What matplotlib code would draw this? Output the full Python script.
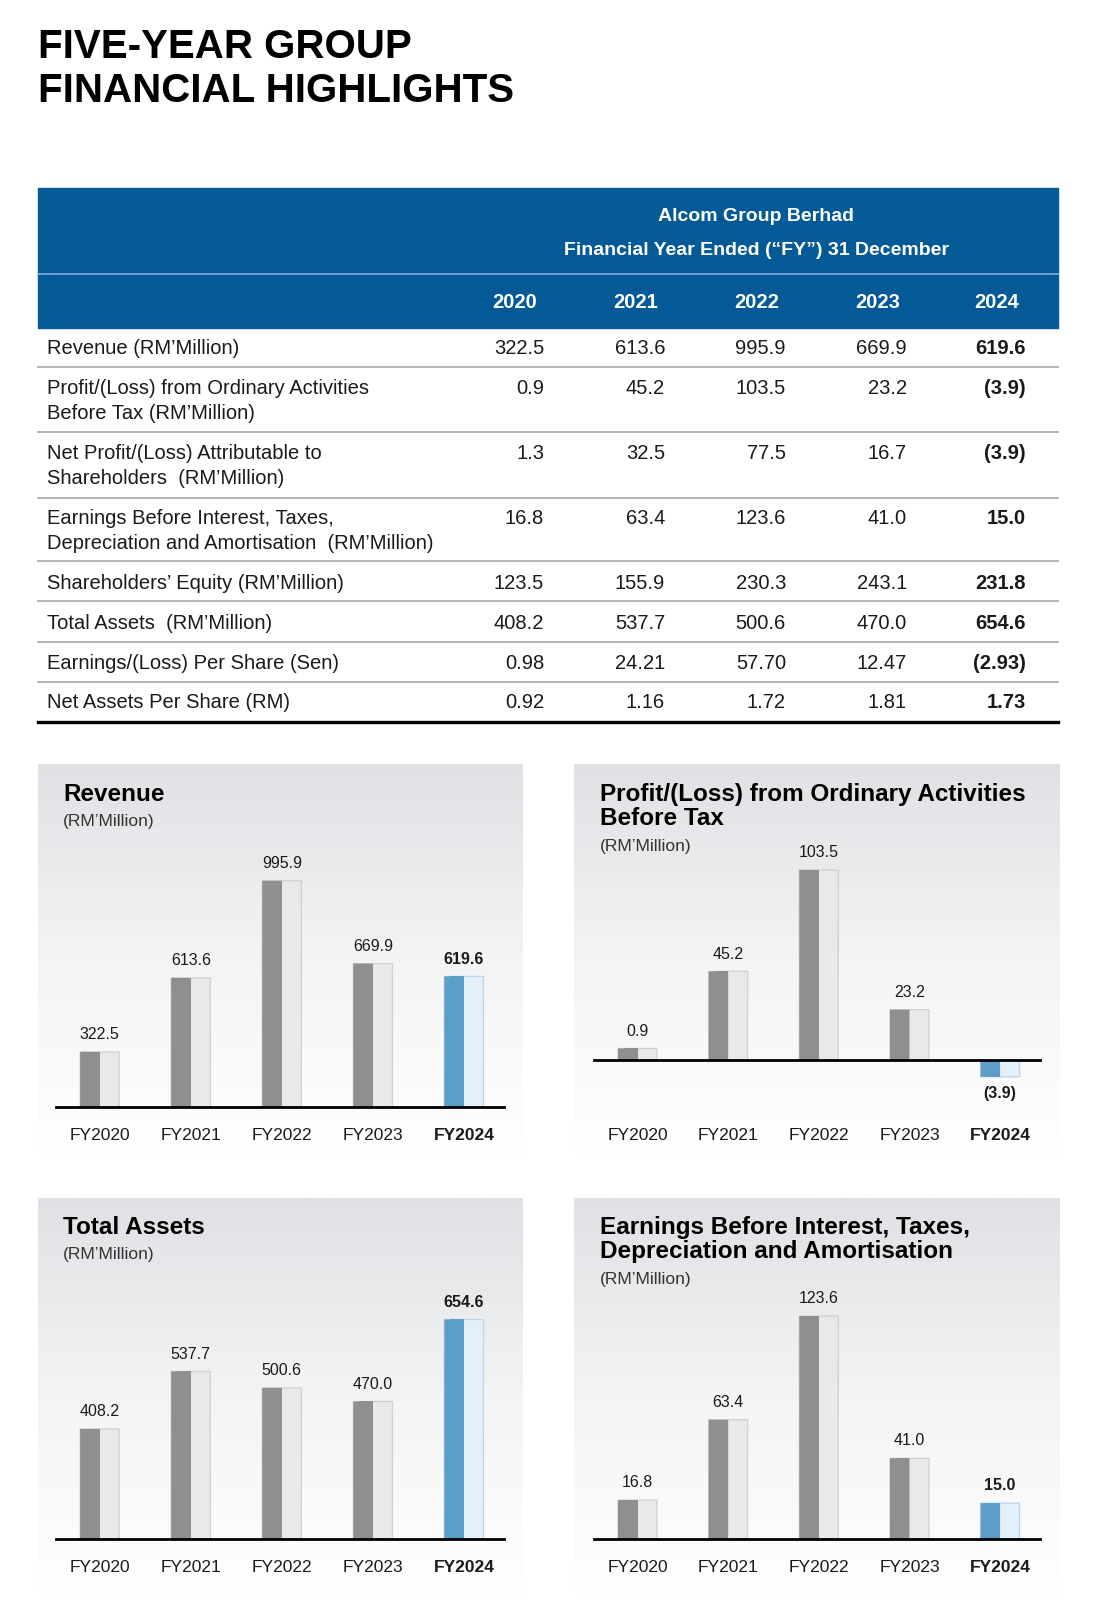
import numpy as np
import matplotlib
matplotlib.use("Agg")
import matplotlib.pyplot as plt
from matplotlib.patches import Rectangle, FancyBboxPatch
from matplotlib.colors import LinearSegmentedColormap

plt.rcParams['font.family'] = ['Liberation Sans', 'DejaVu Sans']

# ---- data ----
years = ["2020", "2021", "2022", "2023", "2024"]
fy_labels = ["FY2020", "FY2021", "FY2022", "FY2023", "FY2024"]

row_labels = [
    ["Revenue (RM\u2019Million)"],
    ["Profit/(Loss) from Ordinary Activities", "Before Tax (RM\u2019Million)"],
    ["Net Profit/(Loss) Attributable to", "Shareholders  (RM\u2019Million)"],
    ["Earnings Before Interest, Taxes,", "Depreciation and Amortisation  (RM\u2019Million)"],
    ["Shareholders\u2019 Equity (RM\u2019Million)"],
    ["Total Assets  (RM\u2019Million)"],
    ["Earnings/(Loss) Per Share (Sen)"],
    ["Net Assets Per Share (RM)"],
]
revenue = [322.5, 613.6, 995.9, 669.9, 619.6]
profit_bt = [0.9, 45.2, 103.5, 23.2, -3.9]
net_profit = [1.3, 32.5, 77.5, 16.7, -3.9]
ebitda = [16.8, 63.4, 123.6, 41.0, 15.0]
equity = [123.5, 155.9, 230.3, 243.1, 231.8]
total_assets = [408.2, 537.7, 500.6, 470.0, 654.6]
eps = [0.98, 24.21, 57.70, 12.47, -2.93]
naps = [0.92, 1.16, 1.72, 1.81, 1.73]
table_rows = [revenue, profit_bt, net_profit, ebitda, equity, total_assets, eps, naps]
row_decimals = [1, 1, 1, 1, 1, 1, 2, 2]


def fmt(v, d):
    s = f"{abs(v):.{d}f}"
    return f"({s})" if v < 0 else s


# ---- layout (pixels) ----
W, H = 1096, 1600
DPI = 100
fig = plt.figure(figsize=(W / DPI, H / DPI), dpi=DPI)
base = fig.add_axes([0, 0, 1, 1], zorder=10)
base.set_xlim(0, W)
base.set_ylim(H, 0)
base.axis('off')


def px_box(x0, y0, x1, y1):
    return [x0 / W, 1 - y1 / H, (x1 - x0) / W, (y1 - y0) / H]


def txt(x, yc, s, size, **kw):
    # yc = vertical centre of capital letters
    base.text(x, yc + 0.36 * size * DPI / 72, s, fontsize=size, va='baseline', **kw)


TEXT = '#1a1a1a'
BLUE = '#045a97'

# title
txt(38, 43, "FIVE-YEAR GROUP", 29, weight='bold', color='black')
txt(38, 88, "FINANCIAL HIGHLIGHTS", 29, weight='bold', color='black')

# table header
tx0, tx1 = 38, 1058
base.add_patch(Rectangle((tx0, 188), tx1 - tx0, 140, color=BLUE, zorder=1))
base.plot([tx0, tx1], [274, 274], color='#7fb0dc', lw=1.2, zorder=2)
txt(756, 214, "Alcom Group Berhad", 14, weight='bold', color='white', ha='center')
txt(756, 248, "Financial Year Ended (\u201cFY\u201d) 31 December", 14, weight='bold',
    color='white', ha='center')

col_right = [544, 665, 786, 907, 1026]
for c, yr in zip(col_right, years):
    txt(c - 29, 301, yr, 14.5, weight='bold', color='white', ha='center')

row_y = [[347], [387, 412], [452, 477], [517, 542], [582], [622], [662], [701]]
line_y = [367, 432, 498, 561, 601, 642, 682]
for labels, ys, vals, d in zip(row_labels, row_y, table_rows, row_decimals):
    for lab, y in zip(labels, ys):
        txt(47, y, lab, 14.5, color=TEXT)
    for j, (c, v) in enumerate(zip(col_right, vals)):
        txt(c, ys[0], fmt(v, d), 14.5, color=TEXT, ha='right',
            weight='bold' if j == 4 else 'normal')
for y in line_y:
    base.plot([tx0, tx1], [y, y], color='#b4b4b4', lw=1.4)
base.plot([tx0, tx1], [722, 722], color='black', lw=2.4)

# ---- chart panels ----
grad_cmap = LinearSegmentedColormap.from_list('bg', ['#dfe1e4', '#f3f4f5', '#ffffff'])
panels = [(38, 764, 523, 1157), (574, 764, 1060, 1157),
          (38, 1198, 523, 1597), (574, 1198, 1060, 1597)]
for p in panels:
    bg = fig.add_axes(px_box(*p), zorder=0)
    bg.imshow(np.linspace(0, 1, 256).reshape(-1, 1), cmap=grad_cmap, aspect='auto')
    bg.axis('off')

CAP_PX = 10
ROUND_PX = 6
BW = 0.43


def bar_chart(box, values, ylim, pad, titles, title_x, title_y, sub_y):
    ax = fig.add_axes(px_box(*box), zorder=2)
    ax.set_facecolor('none')
    xlim = (-0.48, 4.44)
    ax.set_xlim(*xlim)
    ax.set_ylim(*ylim)
    px_y = (box[3] - box[1]) / (ylim[1] - ylim[0])
    px_x = (box[2] - box[0]) / (xlim[1] - xlim[0])
    cap = CAP_PX / px_y
    rs = ROUND_PX / px_x
    aspect = px_x / px_y
    bottom = max(ylim[0], 0)
    x = np.arange(len(values))
    for i, v in enumerate(values):
        top = v + cap if v >= 0 else v - cap
        y0, h = min(bottom, top), abs(top - bottom)
        hl = i == len(values) - 1
        dark = '#5b9ec8' if hl else '#8f8f8f'
        light = '#e3f0f9' if hl else '#e9e9e9'
        edge = '#b8d5ea' if hl else '#d0d0d0'
        r = min(rs, h * aspect / 2.2)
        ax.add_patch(FancyBboxPatch((i - BW / 2, y0), BW, h,
                                    boxstyle=f"round,pad=0,rounding_size={r}",
                                    mutation_aspect=1 / aspect, facecolor=light,
                                    edgecolor=edge, linewidth=0.9))
        ax.add_patch(FancyBboxPatch((i - BW / 2, y0), BW / 2, h,
                                    boxstyle=f"round,pad=0,rounding_size={r}",
                                    mutation_aspect=1 / aspect, facecolor=dark,
                                    edgecolor='none'))
        ax.add_patch(Rectangle((i - BW / 2 + r, y0), BW / 2 - r, h,
                               facecolor=dark, edgecolor='none'))
        lbl = fmt(v, 1)
        off = CAP_PX * 0.72 + 12.5 if v >= 0 else -(CAP_PX * 0.72 + 12)
        ax.annotate(lbl, (i, v), xytext=(0, off), textcoords='offset points',
                    ha='center', va='center', fontsize=11.5, color=TEXT,
                    weight='bold' if hl else 'normal')
    ax.axhline(bottom, color='black', lw=2, clip_on=False)
    ax.set_xticks(x)
    ax.set_xticklabels(fy_labels, fontsize=12.5, color=TEXT)
    ax.get_xticklabels()[-1].set_fontweight('bold')
    ax.tick_params(axis='x', length=0, pad=pad)
    ax.set_yticks([])
    for s in ax.spines.values():
        s.set_visible(False)
    for k, t in enumerate(titles):
        txt(title_x, title_y + 24 * k, t, 17.5, weight='bold', color='black')
    txt(title_x, sub_y, "(RM\u2019Million)", 12.5, color='#333333')
    return ax


bar_chart((56, 830, 504, 1107), revenue, (145, 1235), 15,
          ["Revenue"], 63, 792, 820)
bar_chart((594, 845, 1040, 1095), profit_bt, (-20.1, 123.6), 24,
          ["Profit/(Loss) from Ordinary Activities", "Before Tax"], 600, 792, 845)
bar_chart((56, 1280, 504, 1539), total_assets, (183, 766), 15,
          ["Total Assets"], 63, 1225, 1253)
bar_chart((594, 1290, 1040, 1539), ebitda, (0, 144.5), 15,
          ["Earnings Before Interest, Taxes,", "Depreciation and Amortisation"], 600, 1225, 1278)

fig.savefig("out.png", dpi=DPI, facecolor='white')
